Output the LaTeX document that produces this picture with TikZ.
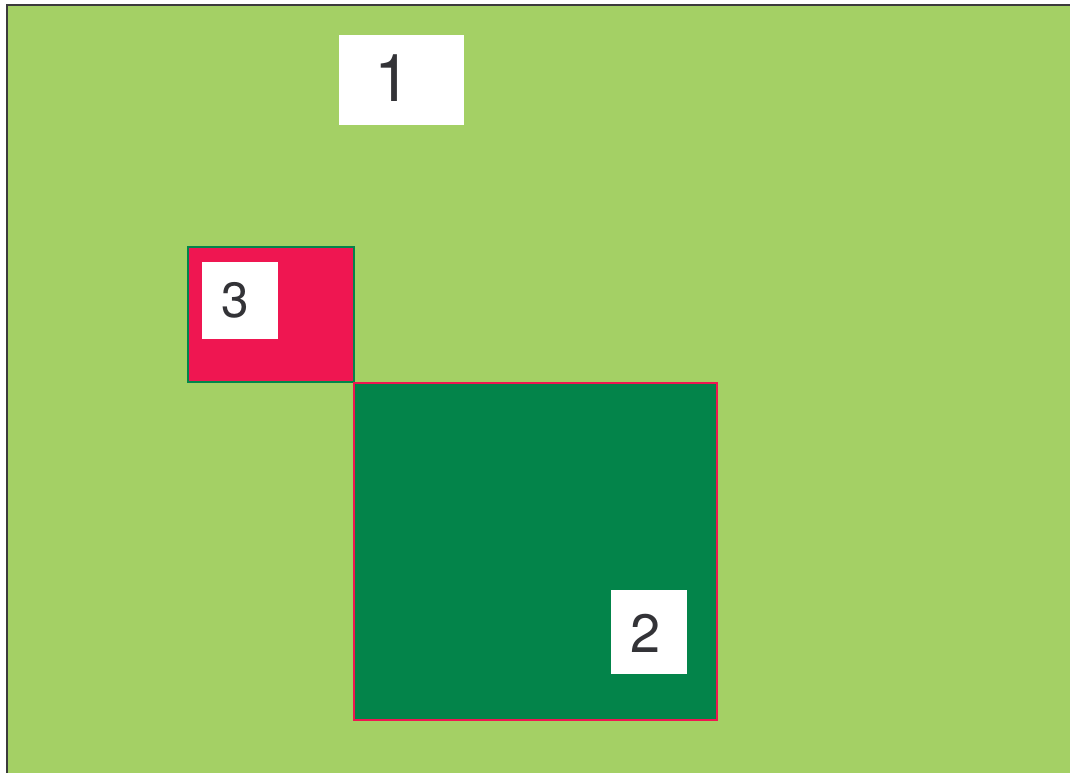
\documentclass[tikz,border=0pt]{standalone}
\usepackage{fontspec}
\setmainfont{TeX Gyre Heros}
\usetikzlibrary{positioning}
\definecolor{lawn}{HTML}{A4D065}
\definecolor{crimson}{HTML}{EF1651}
\definecolor{forest}{HTML}{03844A}
\definecolor{framecolor}{HTML}{3B3B3B}
\definecolor{digitcolor}{HTML}{333337}
\def\pw{1070}
\def\ph{772}

\begin{document}
\begin{tikzpicture}[
    x=1pt, y=-1pt,
    frame/.style={draw=framecolor, fill=lawn, line width=2.5pt},
    redbox/.style={fill=crimson, draw=forest, line width=2pt},
    greenbox/.style={fill=forest, draw=crimson, line width=2pt},
    tag/.style={fill=white, inner sep=0pt, anchor=north west},
    digit/.style={text=digitcolor, inner sep=0pt},
]

% ---------------------------------------------------------- canvas
\clip (0,0) rectangle (\pw,\ph);
\draw[frame] (7.2,5.2) rectangle (\pw+20,\ph+20);

% ---------------------------------------------------------- (3) red square
\draw[redbox] (188,246.5) rectangle (354,382);

% ---------------------------------------------------------- (2) green square
\draw[greenbox] (354,383) rectangle (717,720);

% ---------------------------------------------------------- white tags
\node[tag, minimum width=125, minimum height=90] (tag1) at (339,35) {};
\node[tag, minimum width=76, minimum height=77] (tag3) at (202,262) {};
\node[tag, minimum width=76, minimum height=84] (tag2) at (611,590) {};

% digits sit a little left of each tag's middle
\node[digit, font=\fontsize{66}{66}\selectfont] (d1)
    at ([xshift=-8.5, yshift=1.7]tag1.center) {1};
\node[digit, font=\fontsize{49.5}{50}\selectfont] (d3)
    at ([xshift=-5.3, yshift=0.6]tag3.center) {3};
\node[digit, font=\fontsize{54}{54}\selectfont] (d2)
    at ([xshift=-3.4, yshift=-1]tag2.center) {2};

\end{tikzpicture}
\end{document}
